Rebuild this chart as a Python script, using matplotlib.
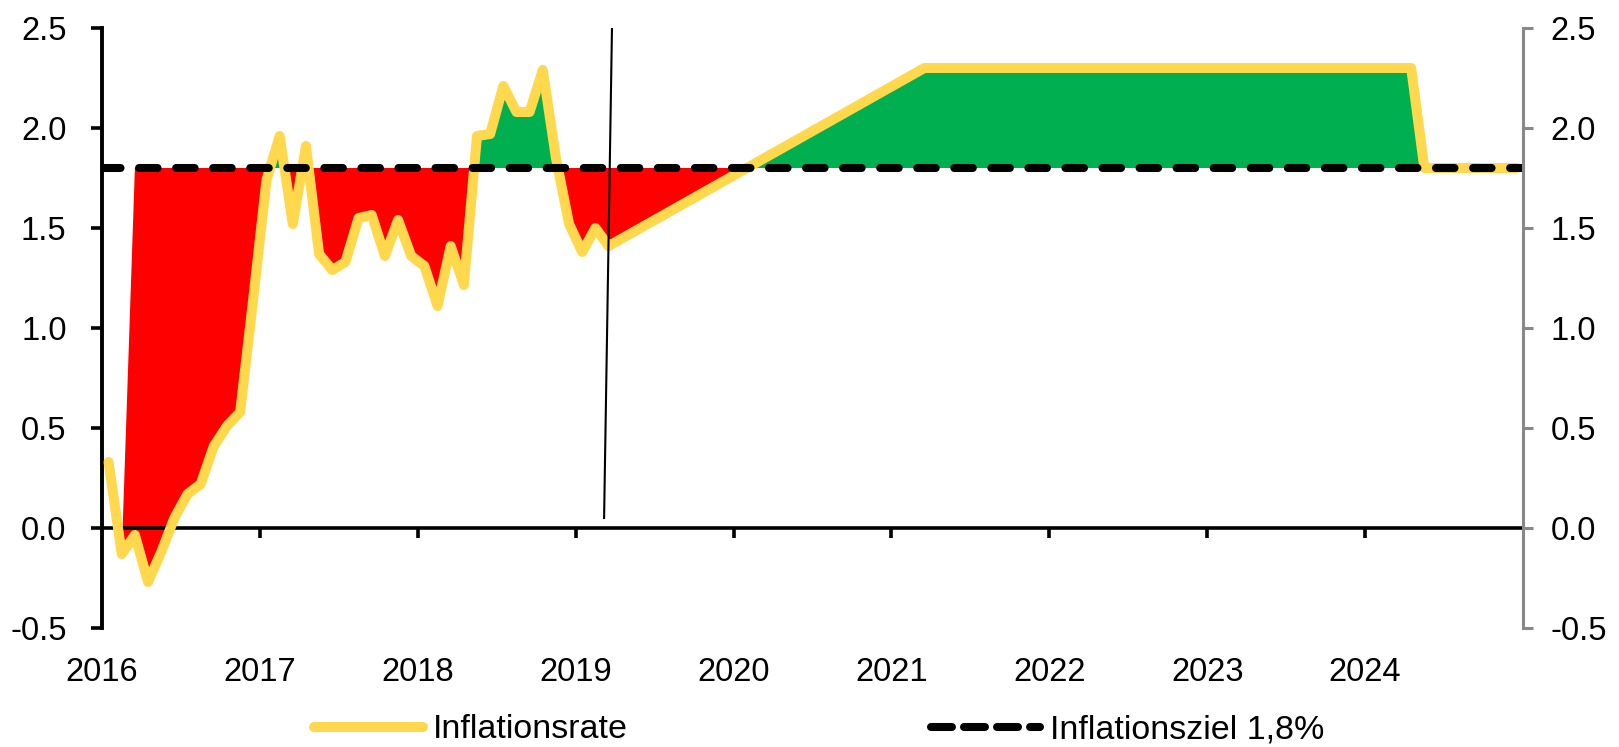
import numpy as np
import matplotlib
matplotlib.use("Agg")
import matplotlib.pyplot as plt
from matplotlib.lines import Line2D

plt.rcParams['font.family'] = ['Liberation Sans', 'DejaVu Sans']
plt.rcParams['font.size'] = 23.5

# monthly inflation rate, Jan 2016 .. Mar 2019
actual_start = "2016-01"
actual_values = [0.33, -0.13, -0.035, -0.27, -0.12, 0.05, 0.17, 0.22, 0.41, 0.51,
                 0.58, 1.15, 1.74, 1.96, 1.52, 1.91, 1.37, 1.29, 1.33, 1.55,
                 1.565, 1.36, 1.54, 1.36, 1.31, 1.11, 1.41, 1.215, 1.96, 1.97,
                 2.21, 2.08, 2.08, 2.29, 1.85, 1.52, 1.38, 1.50, 1.41]
# path after Mar 2019 (corner points)
path_months = ["2021-03", "2024-04", "2024-05", "2024-12"]
path_values = [2.30, 2.30, 1.80, 1.80]

target = 1.8
years = list(range(2016, 2025))
cut_line = [(2019.18, 0.05), (2019.23, 2.5)]  # thin marker line (x, y)

YELLOW = '#FFD84D'
RED = '#FF0000'
GREEN = '#00B050'
GREY = '#888888'


def month_pos(s, offset=0):
    y, m = s.split('-')
    return int(y) + (int(m) - 1 + offset + 0.5) / 12


x0 = month_pos(actual_start)
x = [x0 + i / 12 for i in range(len(actual_values))] + [month_pos(s) for s in path_months]
y = actual_values + path_values
x = np.array(x)
y = np.array(y)

fig = plt.figure(figsize=(16.19, 7.47), dpi=100)
ax = fig.add_axes([102 / 1619, 1 - 628 / 747, (1523 - 102) / 1619, 600 / 747])

# red area starts with the second month, slanted edge like the original
base = np.full(len(x) - 1, target)
base[0] = y[1]
ax.fill_between(x[1:], y[1:], base, where=y[1:] <= base, interpolate=True,
                color=RED, lw=0, zorder=1)
ax.fill_between(x, y, target, where=y >= target, interpolate=True,
                color=GREEN, lw=0, zorder=1)

ax.plot(x, y, color=YELLOW, lw=7.2, solid_joinstyle='round', solid_capstyle='round', zorder=3)
ax.plot([2016, 2025], [target, target], color='black', lw=5.8, dashes=(2.3, 2.3),
        dash_capstyle='round', zorder=4)
ax.plot([p[0] for p in cut_line], [p[1] for p in cut_line], color='black', lw=1.5, zorder=5)

ax.set_xlim(2016, 2025)
ax.set_ylim(-0.5, 2.5)
ax.set_yticks(np.arange(-0.5, 2.51, 0.5))
ax.yaxis.set_major_formatter(plt.FuncFormatter(lambda v, p: f'{v:.1f}'))

for s in ['top', 'right']:
    ax.spines[s].set_visible(False)
ax.spines['left'].set_linewidth(2.8)
ax.spines['bottom'].set_position(('data', 0))
ax.spines['bottom'].set_linewidth(2.6)
ax.tick_params(axis='y', direction='out', length=8, width=2.6, pad=17.5, colors='black')
ax.set_xticks(years[1:])
ax.tick_params(axis='x', direction='out', length=7, width=2.6, labelbottom=False)

# year labels at the bottom of the plot
sec = ax.secondary_xaxis('bottom')
sec.set_xticks(years)
sec.set_xticklabels([str(v) for v in years])
sec.tick_params(length=0, pad=21)
sec.spines['bottom'].set_visible(False)

ax2 = ax.twinx()
ax2.set_ylim(-0.5, 2.5)
ax2.set_yticks(np.arange(-0.5, 2.51, 0.5))
ax2.yaxis.set_major_formatter(plt.FuncFormatter(lambda v, p: f'{v:.1f}'))
for s in ['top', 'left', 'bottom']:
    ax2.spines[s].set_visible(False)
ax2.spines['right'].set_color(GREY)
ax2.spines['right'].set_linewidth(2.2)
ax2.tick_params(axis='y', direction='out', length=7, width=2.2, color=GREY,
                labelcolor='black', pad=13)

handles = [Line2D([], [], color=YELLOW, lw=7.2, solid_capstyle='round'),
           Line2D([], [], color='black', lw=5.8, dashes=(2.6, 1.5), dash_capstyle='round')]
fig.legend(handles, ['Inflationsrate', 'Inflationsziel 1,8%'], loc='center left',
           bbox_to_anchor=(297 / 1619, 1 - 730 / 747), ncol=2, frameon=False,
           borderpad=0, handlelength=3.2, handletextpad=0.3, columnspacing=8.9,
           fontsize=24.5)

plt.savefig('out.png', dpi=100)
